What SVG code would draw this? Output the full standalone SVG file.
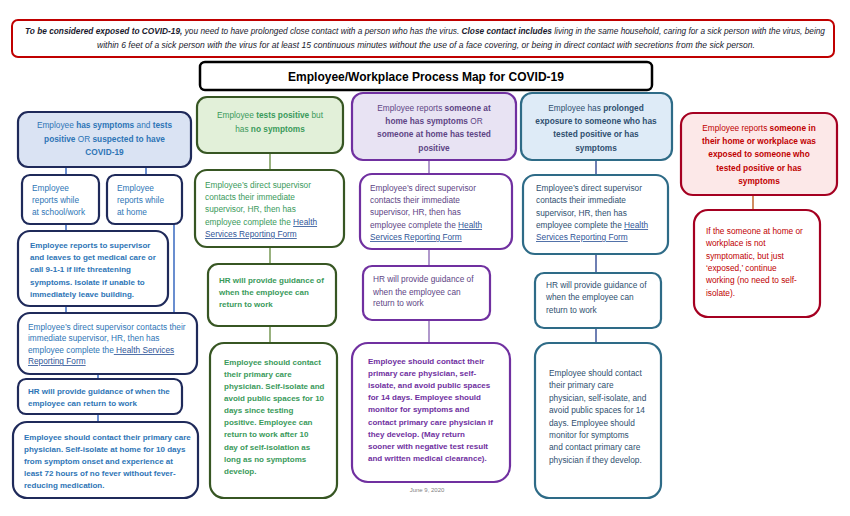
<svg xmlns="http://www.w3.org/2000/svg" width="850" height="516" viewBox="0 0 850 516">
<style>
text{font-family:"Liberation Sans",Arial,sans-serif;font-size:8.3px}
.b{font-weight:bold}
.bb{font-weight:bold;font-size:8px}
.c{text-anchor:middle}
.box{stroke-width:2.2}
.c1{stroke:#1f2a5a}
.c2{stroke:#375623}
.c3{stroke:#7030a0}
.c4{stroke:#2e6b87}
.c5{stroke:#a50021}
.t1{fill:#2e75b6}
.t2{fill:#3a9a5b}
.t3{fill:#5e4585}
.t3b{fill:#7030a0}
.t4{fill:#2f4f6f}
.t5{fill:#c00000}
.lk{fill:#2f5597;text-decoration:underline}
.con line{stroke-width:1.6}
</style>
<rect width="850" height="516" fill="#ffffff"/>

<g id="banner">
<rect x="12" y="20" width="822" height="37" rx="6" fill="#ffffff" stroke="#c00000" stroke-width="2"/>
<text x="425" y="34" class="c" font-style="italic" fill="#1a1a2e" textLength="800" lengthAdjust="spacingAndGlyphs"><tspan class="b">To be considered exposed to COVID-19,</tspan> you need to have prolonged close contact with a person who has the virus. <tspan class="b">Close contact includes</tspan> living in the same household, caring for a sick person with the virus, being</text>
<text x="426" y="48" class="c" font-style="italic" fill="#1a1a2e" textLength="658" lengthAdjust="spacingAndGlyphs">within 6 feet of a sick person with the virus for at least 15 continuous minutes without the use of a face covering, or being in direct contact with secretions from the sick person.</text>
</g>

<g id="title">
<rect x="200" y="62" width="452" height="28" rx="5" fill="#ffffff" stroke="#000000" stroke-width="2.5"/>
<text x="426" y="80.5" class="c b" style="font-size:12px" fill="#000000">Employee/Workplace Process Map for COVID-19</text>
</g>

<g id="connectors" class="con">
<line x1="66" y1="167" x2="66" y2="175" stroke="#4472c4"/>
<line x1="146" y1="167" x2="146" y2="175" stroke="#4472c4"/>
<line x1="66" y1="224" x2="66" y2="231" stroke="#4472c4"/>
<line x1="174" y1="224" x2="174" y2="313" stroke="#4472c4"/>
<line x1="66" y1="306" x2="66" y2="313" stroke="#4472c4"/>
<line x1="98" y1="374" x2="98" y2="379" stroke="#4472c4"/>
<line x1="98" y1="414" x2="98" y2="422" stroke="#4472c4"/>
<line x1="270" y1="153" x2="270" y2="170" stroke="#7f9f5f"/>
<line x1="270" y1="247" x2="270" y2="264" stroke="#7f9f5f"/>
<line x1="270" y1="326" x2="270" y2="343" stroke="#7f9f5f"/>
<line x1="429" y1="160" x2="429" y2="174" stroke="#9d7fc0"/>
<line x1="429" y1="249" x2="429" y2="266" stroke="#9d7fc0"/>
<line x1="429" y1="320" x2="429" y2="343" stroke="#9d7fc0"/>
<line x1="596" y1="160" x2="596" y2="175" stroke="#4a5fa0"/>
<line x1="596" y1="254" x2="596" y2="273" stroke="#4a5fa0"/>
<line x1="596" y1="328" x2="596" y2="343" stroke="#4a5fa0"/>
<line x1="753" y1="195" x2="753" y2="210" stroke="#c5703a"/>
</g>

<!-- Column 1 -->
<g id="c1-top">
<rect x="18" y="112" width="173" height="55" rx="10" class="box c1" fill="#dae3f3"/>
<text x="104.5" y="128" class="c t1">Employee <tspan class="b">has symptoms</tspan> and <tspan class="b">tests</tspan></text>
<text x="104.5" y="142" class="c t1"><tspan class="b">positive</tspan> OR <tspan class="b">suspected to have</tspan></text>
<text x="104.5" y="155" class="c t1 b">COVID-19</text>
</g>
<g id="c1-work">
<rect x="22" y="175" width="77" height="49" rx="8" class="box c1" fill="#ffffff"/>
<text x="32" y="191" class="t1">Employee</text>
<text x="32" y="203" class="t1">reports while</text>
<text x="32" y="215" class="t1">at school/work</text>
</g>
<g id="c1-home">
<rect x="107" y="175" width="75" height="49" rx="8" class="box c1" fill="#ffffff"/>
<text x="117" y="191" class="t1">Employee</text>
<text x="117" y="203" class="t1">reports while</text>
<text x="117" y="215" class="t1">at home</text>
</g>
<g id="c1-leave">
<rect x="18" y="231" width="150" height="75" rx="12" class="box c1" fill="#ffffff"/>
<text x="30" y="248" class="t1 bb">Employee reports to supervisor</text>
<text x="30" y="260" class="t1 bb">and leaves to get medical care or</text>
<text x="30" y="272" class="t1 bb">call 9-1-1 if life threatening</text>
<text x="30" y="285" class="t1 bb">symptoms. Isolate if unable to</text>
<text x="30" y="297" class="t1 bb">immediately leave building.</text>
</g>
<g id="c1-sup">
<rect x="18" y="313" width="179" height="61" rx="12" class="box c1" fill="#ffffff"/>
<text x="28" y="330" class="t1">Employee’s direct supervisor contacts their</text>
<text x="28" y="341" class="t1">immediate supervisor, HR, then has</text>
<text x="28" y="353" class="t1">employee complete the<tspan class="lk"> Health Services</tspan></text>
<text x="28" y="364" class="lk">Reporting Form</text>
</g>
<g id="c1-hr">
<rect x="18" y="379" width="164" height="35" rx="8" class="box c1" fill="#ffffff"/>
<text x="28" y="394" class="t1 bb">HR will provide guidance of when the</text>
<text x="28" y="406" class="t1 bb">employee can return to work</text>
</g>
<g id="c1-final">
<rect x="13" y="422" width="185" height="76" rx="14" class="box c1" fill="#ffffff"/>
<text x="24" y="440" class="t1 bb">Employee should contact their primary care</text>
<text x="24" y="452" class="t1 bb">physician. Self-isolate at home for 10 days</text>
<text x="24" y="464" class="t1 bb">from symptom onset and experience at</text>
<text x="24" y="476" class="t1 bb">least 72 hours of no fever without fever-</text>
<text x="24" y="488" class="t1 bb">reducing medication.</text>
</g>

<!-- Column 2 -->
<g id="c2-top">
<rect x="197" y="97" width="146" height="56" rx="10" class="box c2" fill="#e2f0d9"/>
<text x="270" y="118" class="c t2">Employee <tspan class="b">tests positive</tspan> but</text>
<text x="270" y="132" class="c t2">has <tspan class="b">no symptoms</tspan></text>
</g>
<g id="c2-sup">
<rect x="195" y="170" width="149" height="77" rx="12" class="box c2" fill="#ffffff"/>
<text x="205" y="188" class="t2">Employee’s direct supervisor</text>
<text x="205" y="200" class="t2">contacts their immediate</text>
<text x="205" y="212" class="t2">supervisor, HR, then has</text>
<text x="205" y="225" class="t2">employee complete the <tspan class="lk">Health</tspan></text>
<text x="205" y="237" class="lk">Services Reporting Form</text>
</g>
<g id="c2-hr">
<rect x="208" y="264" width="128" height="62" rx="10" class="box c2" fill="#ffffff"/>
<text x="219" y="283" class="t2 bb">HR will provide guidance of</text>
<text x="219" y="295" class="t2 bb">when the employee can</text>
<text x="219" y="307" class="t2 bb">return to work</text>
</g>
<g id="c2-final">
<rect x="210" y="343" width="127" height="155" rx="14" class="box c2" fill="#ffffff"/>
<text x="224" y="365" class="t2 bb">Employee should contact</text>
<text x="224" y="377" class="t2 bb">their primary care</text>
<text x="224" y="389" class="t2 bb">physician. Self-isolate and</text>
<text x="224" y="401" class="t2 bb">avoid public spaces for 10</text>
<text x="224" y="413" class="t2 bb">days since testing</text>
<text x="224" y="425" class="t2 bb">positive. Employee can</text>
<text x="224" y="437" class="t2 bb">return to work after 10</text>
<text x="224" y="450" class="t2 bb">day of self-isolation as</text>
<text x="224" y="462" class="t2 bb">long as no symptoms</text>
<text x="224" y="474" class="t2 bb">develop.</text>
</g>

<!-- Column 3 -->
<g id="c3-top">
<rect x="352" y="93" width="164" height="67" rx="11" class="box c3" fill="#e8e3f3"/>
<text x="434" y="111" class="c t3">Employee reports <tspan class="b">someone at</tspan></text>
<text x="434" y="124" class="c t3"><tspan class="b">home has symptoms</tspan> OR</text>
<text x="434" y="137" class="c t3 b">someone at home has tested</text>
<text x="434" y="151" class="c t3 b">positive</text>
</g>
<g id="c3-sup">
<rect x="360" y="174" width="152" height="75" rx="12" class="box c3" fill="#ffffff"/>
<text x="370" y="191" class="t3">Employee’s direct supervisor</text>
<text x="370" y="203" class="t3">contacts their immediate</text>
<text x="370" y="215" class="t3">supervisor, HR, then has</text>
<text x="370" y="228" class="t3">employee complete the <tspan class="lk">Health</tspan></text>
<text x="370" y="240" class="lk">Services Reporting Form</text>
</g>
<g id="c3-hr">
<rect x="363" y="266" width="127" height="54" rx="9" class="box c3" fill="#ffffff"/>
<text x="373" y="282" class="t3">HR will provide guidance of</text>
<text x="373" y="295" class="t3">when the employee can</text>
<text x="373" y="306" class="t3">return to work</text>
</g>
<g id="c3-final">
<rect x="352" y="343" width="158" height="139" rx="16" class="box c3" fill="#ffffff"/>
<text x="368" y="364" class="t3b bb">Employee should contact their</text>
<text x="368" y="376" class="t3b bb">primary care physician, self-</text>
<text x="368" y="388" class="t3b bb">isolate, and avoid public spaces</text>
<text x="368" y="400" class="t3b bb">for 14 days. Employee should</text>
<text x="368" y="412" class="t3b bb">monitor for symptoms and</text>
<text x="368" y="425" class="t3b bb">contact primary care physician if</text>
<text x="368" y="437" class="t3b bb">they develop. (May return</text>
<text x="368" y="449" class="t3b bb">sooner with negative test result</text>
<text x="368" y="461" class="t3b bb">and written medical clearance).</text>
</g>
<text x="427" y="492" class="c" style="font-size:6px" fill="#7f7f7f">June 9, 2020</text>

<!-- Column 4 -->
<g id="c4-top">
<rect x="521" y="93" width="151" height="67" rx="11" class="box c4" fill="#deebf7"/>
<text x="596" y="111" class="c t4">Employee has <tspan class="b">prolonged</tspan></text>
<text x="596" y="124" class="c t4 b">exposure to someone who has</text>
<text x="596" y="137" class="c t4 b">tested positive or has</text>
<text x="596" y="151" class="c t4 b">symptoms</text>
</g>
<g id="c4-sup">
<rect x="523" y="175" width="145" height="79" rx="12" class="box c4" fill="#ffffff"/>
<text x="536" y="191" class="t4">Employee’s direct supervisor</text>
<text x="536" y="203" class="t4">contacts their immediate</text>
<text x="536" y="216" class="t4">supervisor, HR, then has</text>
<text x="536" y="228" class="t4">employee complete the <tspan class="lk">Health</tspan></text>
<text x="536" y="240" class="lk">Services Reporting Form</text>
</g>
<g id="c4-hr">
<rect x="535" y="273" width="126" height="55" rx="9" class="box c4" fill="#ffffff"/>
<text x="546" y="288" class="t4">HR will provide guidance of</text>
<text x="546" y="300" class="t4">when the employee can</text>
<text x="546" y="313" class="t4">return to work</text>
</g>
<g id="c4-final">
<rect x="535" y="343" width="126" height="155" rx="14" class="box c4" fill="#ffffff"/>
<text x="549" y="376" class="t4">Employee should contact</text>
<text x="549" y="388" class="t4">their primary care</text>
<text x="549" y="401" class="t4">physician, self-isolate, and</text>
<text x="549" y="413" class="t4">avoid public spaces for 14</text>
<text x="549" y="426" class="t4">days. Employee should</text>
<text x="549" y="438" class="t4">monitor for symptoms</text>
<text x="549" y="450" class="t4">and contact primary care</text>
<text x="549" y="463" class="t4">physician if they develop.</text>
</g>

<!-- Column 5 -->
<g id="c5-top">
<rect x="681" y="113" width="156" height="82" rx="12" class="box c5" fill="#fce8e8"/>
<text x="759" y="131" class="c t5">Employee reports <tspan class="b">someone in</tspan></text>
<text x="759" y="144" class="c t5 b">their home or workplace was</text>
<text x="759" y="157" class="c t5 b">exposed to someone who</text>
<text x="759" y="171" class="c t5 b">tested positive or has</text>
<text x="759" y="184" class="c t5 b">symptoms</text>
</g>
<g id="c5-note">
<rect x="694" y="210" width="126" height="107" rx="14" class="box c5" fill="#ffffff"/>
<text x="706" y="234" class="t5">If the someone at home or</text>
<text x="706" y="246" class="t5">workplace is not</text>
<text x="706" y="259" class="t5">symptomatic, but just</text>
<text x="706" y="271" class="t5">‘exposed,’ continue</text>
<text x="706" y="283" class="t5">working (no need to self-</text>
<text x="706" y="296" class="t5">isolate).</text>
</g>
</svg>
